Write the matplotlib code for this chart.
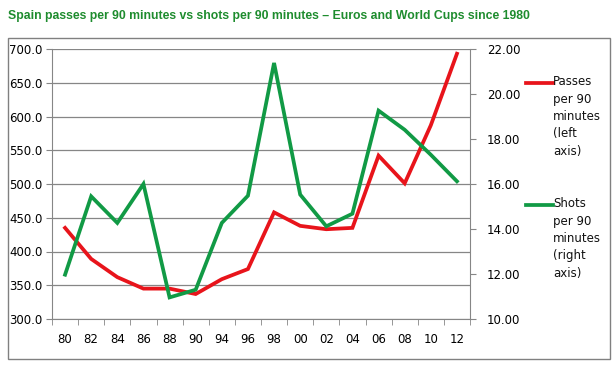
import matplotlib

matplotlib.use("Agg")
import matplotlib.pyplot as plt
from matplotlib.patches import Rectangle

# tournament years and per-90 stats
years = ["80", "82", "84", "86", "88", "90", "94", "96", "98", "00", "02", "04", "06", "08", "10", "12"]
passes = [435, 389, 362, 345, 345, 337, 359, 374, 458, 438, 433, 435, 542, 501, 587, 693]
shots = [11.97, 15.45, 14.27, 16.0, 10.96, 11.3, 14.27, 15.48, 21.38, 15.53, 14.12, 14.68, 19.26, 18.41, 17.3, 16.12]

RED = "#e8141b"
GREEN = "#119a45"
GRID = "#868686"

W, H = 616, 367
fig = plt.figure(figsize=(W / 100, H / 100), dpi=100)
plt.rcParams["font.family"] = ["DejaVu Sans"]

# outer chart border
fig.patches.append(Rectangle((8 / W, 1 - 359 / H), 602 / W, 321 / H, transform=fig.transFigure,
                             fill=False, edgecolor="#808080", lw=1))

fig.text(8 / W, 1 - 16 / H, "Spain passes per 90 minutes vs shots per 90 minutes \u2013 Euros and World Cups since 1980",
         color="#1e8c2e", fontsize=8.8, fontweight="bold", family="Liberation Sans", va="center", ha="left")

ax = fig.add_axes([52 / W, 1 - 319 / H, 418 / W, 270 / H])
x = list(range(len(years)))
ax.plot(x, passes, color=RED, lw=2.7, solid_joinstyle="miter", zorder=4)
ax.set_xlim(-0.5, len(years) - 0.5)
ax.set_ylim(300, 700)
ax.set_yticks(range(300, 701, 50))
ax.set_yticklabels([f"{v:.1f}" for v in range(300, 701, 50)])
ax.set_xticks(x)
ax.set_xticklabels(years)
ax.set_xticks([i - 0.5 for i in range(len(years) + 1)], minor=True)
ax.tick_params(axis="x", which="major", length=0, pad=10, labelsize=8.5)
ax.tick_params(axis="x", which="minor", length=4, color=GRID, direction="out")
ax.tick_params(axis="y", length=4, color=GRID, labelsize=8.5, pad=3)
ax.grid(axis="y", color=GRID, lw=0.9)
ax.set_axisbelow(True)
for side in ["top", "right"]:
    ax.spines[side].set_visible(False)
for side in ["left", "bottom"]:
    ax.spines[side].set_color(GRID)

ax2 = ax.twinx()
ax2.plot(x, shots, color=GREEN, lw=2.7, solid_joinstyle="miter", zorder=3)
ax2.set_ylim(10, 22)
ax2.set_yticks(range(10, 23, 2))
ax2.set_yticklabels([f"{v:.2f}" for v in range(10, 23, 2)])
ax2.tick_params(axis="y", length=4, color=GRID, labelsize=8.5, pad=8)
for side in ["top", "left", "bottom"]:
    ax2.spines[side].set_visible(False)
ax2.spines["right"].set_color(GRID)

# legend drawn by hand, Excel style
fig.add_artist(plt.Line2D([526 / W, 553 / W], [1 - 83 / H] * 2, color=RED, lw=2.7, transform=fig.transFigure))
fig.text(553 / W, 1 - 75 / H, "Passes\nper 90\nminutes\n(left\naxis)", fontsize=8.5, va="top", ha="left",
         linespacing=1.45, color="#111111")
fig.add_artist(plt.Line2D([526 / W, 553 / W], [1 - 205 / H] * 2, color=GREEN, lw=2.7, transform=fig.transFigure))
fig.text(553 / W, 1 - 197 / H, "Shots\nper 90\nminutes\n(right\naxis)", fontsize=8.5, va="top", ha="left",
         linespacing=1.45, color="#111111")

fig.savefig("out.png", dpi=100)
